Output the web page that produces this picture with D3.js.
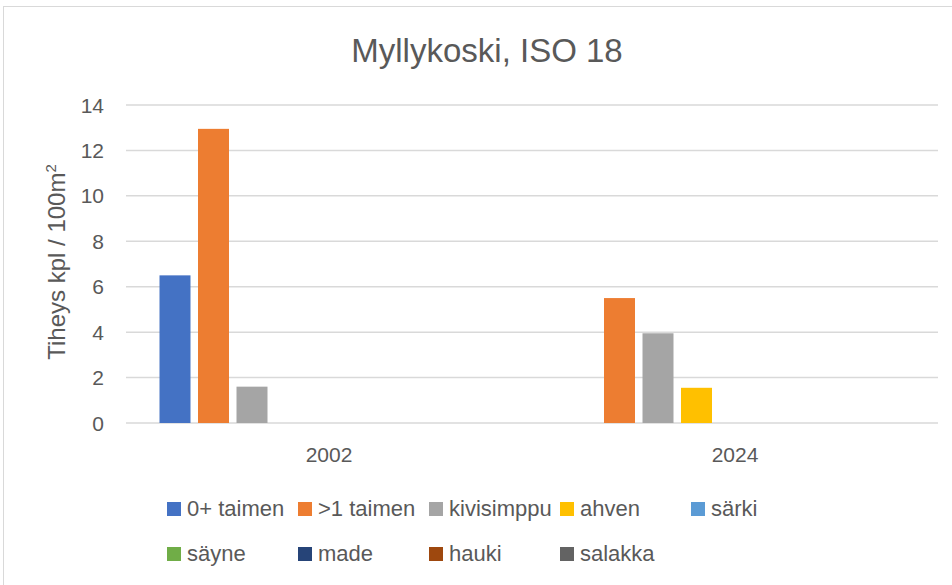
<!DOCTYPE html>
<html>
<head>
<meta charset="utf-8">
<script src="https://cdn.jsdelivr.net/npm/d3@7"></script>
<style>
  body { margin: 0; background: #fff; }
  text { font-family: "Liberation Sans", Arial, sans-serif; fill: #595959; }
</style>
</head>
<body>
<div id="chart"></div>
<script>
// Chart data
const years = ["2002", "2024"];
const species = ["0+ taimen", ">1 taimen", "kivisimppu", "ahven", "särki", "säyne", "made", "hauki", "salakka"];
const values2002 = [6.5, 12.95, 1.6, 0, 0, 0, 0, 0, 0];
const values2024 = [0, 5.5, 3.95, 1.55, 0, 0, 0, 0, 0];
const colors = ["#4472C4", "#ED7D31", "#A5A5A5", "#FFC000", "#5B9BD5", "#70AD47", "#264478", "#9E480E", "#636363"];
const yTicks = [0, 2, 4, 6, 8, 10, 12, 14];

const seriesByYear = [values2002, values2024];

const W = 952, H = 585;
const margin = { top: 105, right: 14, bottom: 162, left: 126 };
const width = W - margin.left - margin.right;
const height = H - margin.top - margin.bottom;

const root = d3.select("#chart")
    .append("svg")
    .attr("width", W)
    .attr("height", H);

// Chart border
root.append("rect")
    .attr("x", 3.5)
    .attr("y", 6.5)
    .attr("width", W + 10)
    .attr("height", H + 10)
    .attr("fill", "none")
    .attr("stroke", "#d9d9d9")
    .attr("stroke-width", 1);

const svg = root.append("g")
    .attr("transform", "translate(" + margin.left + "," + margin.top + ")");

// Scales
const x0 = d3.scaleBand()
    .domain(years)
    .range([0, width]);

const outer = 33.5;
const x1 = d3.scaleBand()
    .domain(species)
    .range([outer, x0.bandwidth() - outer])
    .paddingInner(0.195);

const y = d3.scaleLinear()
    .domain([0, 14])
    .range([height, 0]);

// Gridlines
svg.selectAll(".grid")
    .data(yTicks)
    .enter().append("line")
    .attr("class", "grid")
    .attr("x1", 0)
    .attr("x2", width)
    .attr("y1", d => y(d))
    .attr("y2", d => y(d))
    .attr("stroke", "#d9d9d9")
    .attr("stroke-width", 1.5);

// Y tick labels
svg.selectAll(".ytick")
    .data(yTicks)
    .enter().append("text")
    .attr("class", "ytick")
    .attr("x", -22)
    .attr("y", d => y(d))
    .attr("dy", "0.36em")
    .attr("text-anchor", "end")
    .style("font-size", "21px")
    .text(d => d);

// Bars
const groups = svg.selectAll(".year")
    .data(years)
    .enter().append("g")
    .attr("class", "year")
    .attr("transform", d => "translate(" + x0(d) + ",0)");

groups.selectAll("rect")
    .data((d, i) => species.map((s, j) => ({ s: s, v: seriesByYear[i][j], c: colors[j] })))
    .enter().append("rect")
    .filter(d => d.v > 0)
    .attr("x", d => x1(d.s))
    .attr("y", d => y(d.v))
    .attr("width", x1.bandwidth())
    .attr("height", d => height - y(d.v))
    .attr("fill", d => d.c);

// Category labels
svg.selectAll(".xlabel")
    .data(years)
    .enter().append("text")
    .attr("class", "xlabel")
    .attr("x", d => x0(d) + x0.bandwidth() / 2)
    .attr("y", height + 39)
    .attr("text-anchor", "middle")
    .style("font-size", "21px")
    .text(d => d);

// Title
root.append("text")
    .attr("x", 487)
    .attr("y", 62)
    .attr("text-anchor", "middle")
    .style("font-size", "33px")
    .text("Myllykoski, ISO 18");

// Y axis label
const yl = root.append("text")
    .attr("transform", "translate(65,262) rotate(-90)")
    .attr("text-anchor", "middle")
    .style("font-size", "24px");
yl.append("tspan").text("Tiheys kpl / 100m");
yl.append("tspan").attr("dy", -9).style("font-size", "15px").text("2");

// Legend
const legend = root.selectAll(".legend")
    .data(species)
    .enter().append("g")
    .attr("class", "legend")
    .attr("transform", (d, i) => "translate(" + (167 + (i % 5) * 131) + "," + (502 + Math.floor(i / 5) * 45) + ")");

legend.append("rect")
    .attr("width", 14)
    .attr("height", 14)
    .attr("fill", (d, i) => colors[i]);

legend.append("text")
    .attr("x", 20)
    .attr("y", 14)
    .style("font-size", "22px")
    .text(d => d);
</script>
</body>
</html>
